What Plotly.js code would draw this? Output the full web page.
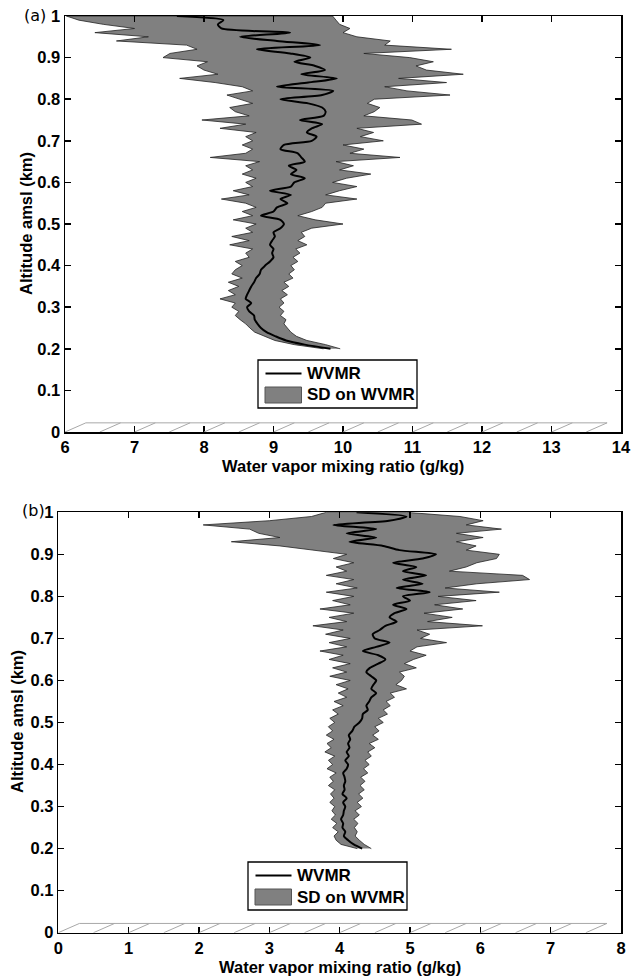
<!DOCTYPE html>
<html><head><meta charset="utf-8">
<script src="https://cdn.plot.ly/plotly-3.0.1.min.js"></script>
<style>html,body{margin:0;padding:0;background:#fff}#chart{width:641px;height:976px}</style>
</head><body><div id="chart"></div>
<script>
// Altitude levels (km amsl)
const altitudeKm = [
0.20,0.21,0.22,0.23,0.24,0.25,0.26,0.27,0.28,0.29,
0.30,0.31,0.32,0.33,0.34,0.35,0.36,0.37,0.38,0.39,
0.40,0.41,0.42,0.43,0.44,0.45,0.46,0.47,0.48,0.49,
0.50,0.51,0.52,0.53,0.54,0.55,0.56,0.57,0.58,0.59,
0.60,0.61,0.62,0.63,0.64,0.65,0.66,0.67,0.68,0.69,
0.70,0.71,0.72,0.73,0.74,0.75,0.76,0.77,0.78,0.79,
0.80,0.81,0.82,0.83,0.84,0.85,0.86,0.87,0.88,0.89,
0.90,0.91,0.92,0.93,0.94,0.95,0.96,0.97,0.98,0.99,
1.00];

// Panel (a): WVMR mean and SD envelope (g/kg)
const wvmrA = [
9.82,9.45,9.18,9.03,8.90,8.82,8.77,8.73,8.72,8.65,
8.62,8.68,8.60,8.62,8.65,8.68,8.72,8.75,8.80,8.82,
8.88,8.95,9.00,8.98,9.00,8.95,8.98,9.02,9.00,9.10,
9.15,9.10,8.82,9.00,9.05,9.20,9.10,9.25,8.95,9.25,
9.30,9.45,9.25,9.33,9.22,9.45,9.40,9.35,9.10,9.15,
9.55,9.62,9.48,9.55,9.70,9.38,9.72,9.75,9.70,9.50,
9.10,9.70,9.86,9.05,9.50,9.91,9.40,9.74,9.60,9.30,
9.53,9.24,8.76,9.67,9.05,8.52,9.24,8.25,8.20,8.28,
7.61];
const sdLowA = [
9.72,9.30,9.02,8.88,8.73,8.66,8.60,8.52,8.45,8.50,
8.40,8.45,8.23,8.45,8.35,8.50,8.35,8.55,8.40,8.45,
8.55,8.45,8.65,8.60,8.70,8.37,8.65,8.40,8.70,8.60,
8.75,8.42,8.70,8.55,8.75,8.60,8.25,8.65,8.42,8.70,
8.60,8.75,8.55,8.70,8.60,8.80,8.09,8.60,8.70,8.55,
8.70,8.60,8.75,8.23,8.60,7.97,8.65,8.45,8.37,8.70,
8.52,8.33,8.70,8.55,8.16,7.65,8.20,8.00,7.90,8.05,
7.41,7.51,7.90,7.75,6.74,7.20,6.43,7.00,6.55,6.20,
6.02];
const sdHighA = [
9.96,9.75,9.48,9.33,9.25,9.20,9.15,9.18,9.10,9.15,
9.08,9.15,9.10,9.20,9.12,9.22,9.15,9.28,9.22,9.30,
9.25,9.35,9.28,9.38,9.32,9.48,9.35,9.45,9.40,9.55,
10.00,9.60,9.35,9.55,9.70,9.75,10.20,9.75,9.95,10.20,
9.85,10.05,10.40,9.95,10.15,9.90,10.82,10.10,10.30,10.00,
10.58,10.25,10.44,10.20,11.13,10.99,10.30,10.45,10.53,10.35,
10.45,11.54,10.92,10.60,11.49,10.80,11.73,11.20,11.05,11.30,
10.96,10.30,11.56,10.60,10.68,10.20,10.00,10.10,9.95,9.90,
9.85];

// Panel (b)
const wvmrB = [
4.32,4.20,4.12,4.06,4.08,4.04,4.05,4.02,4.05,4.06,
4.08,4.05,4.10,4.04,4.07,4.06,4.08,4.07,4.05,4.10,
4.12,4.08,4.13,4.10,4.14,4.12,4.15,4.13,4.18,4.21,
4.28,4.32,4.33,4.40,4.38,4.42,4.45,4.52,4.45,4.48,
4.52,4.45,4.38,4.43,4.55,4.65,4.55,4.33,4.52,4.71,
4.50,4.47,4.57,4.65,4.81,4.71,4.78,4.95,4.76,5.00,
4.90,5.28,4.81,5.18,4.90,5.23,4.90,5.09,4.76,5.18,
5.37,4.85,4.62,4.14,4.52,4.10,4.52,3.91,4.70,4.95,
4.24];
const sdLowB = [
4.25,4.02,3.95,3.92,3.98,3.90,3.96,3.88,3.94,3.89,
3.93,3.86,3.92,3.87,3.93,3.84,3.91,3.86,3.95,3.82,
3.90,3.84,3.93,3.79,3.88,3.82,3.92,3.81,3.90,3.84,
3.93,3.86,3.98,3.90,4.05,3.92,4.10,3.98,4.12,3.95,
4.15,3.86,4.10,3.90,4.15,3.85,4.05,3.72,4.10,3.85,
4.15,3.80,4.05,3.62,4.10,3.85,4.20,3.72,4.15,3.90,
4.20,3.81,4.25,3.95,4.20,3.81,4.10,3.95,4.20,3.91,
4.10,3.60,3.15,2.46,3.15,2.85,2.72,2.06,3.00,3.60,
3.81];
const sdHighB = [
4.45,4.35,4.28,4.22,4.25,4.21,4.26,4.20,4.28,4.22,
4.31,4.25,4.33,4.27,4.35,4.29,4.36,4.30,4.40,4.34,
4.42,4.36,4.45,4.40,4.50,4.42,4.55,4.47,4.56,4.50,
4.62,4.55,4.68,4.62,4.72,4.66,4.78,4.72,4.95,4.80,
4.88,4.92,4.85,5.09,4.92,5.05,5.23,5.00,5.10,5.52,
5.15,5.28,5.10,6.03,5.25,5.60,5.20,5.75,5.35,5.94,
5.40,6.27,5.50,5.95,6.70,6.60,5.56,5.80,5.95,6.23,
6.27,5.80,5.94,5.66,6.04,5.66,6.30,5.80,6.04,5.71,
4.95];

const seriesNames = ['WVMR', 'SD on WVMR'];
const xRangeA = [6, 14];
const xRangeB = [0, 8];

const FONT = 'Arial, "Liberation Sans", sans-serif';
const W = 641, H = 976;
const BAND_FILL = '#808080';

function bandTrace(lo, hi, xa, ya) {
  const xs = lo.concat(hi.slice().reverse());
  const ys = altitudeKm.concat(altitudeKm.slice().reverse());
  return {x: xs, y: ys, xaxis: xa, yaxis: ya, type: 'scatter', mode: 'lines',
    fill: 'toself', fillcolor: BAND_FILL, line: {color: '#222', width: 0.8},
    name: seriesNames[1], showlegend: false, hoverinfo: 'skip'};
}
function meanTrace(m, xa, ya) {
  return {x: m, y: altitudeKm, xaxis: xa, yaxis: ya, type: 'scatter', mode: 'lines',
    line: {color: '#000', width: 2, shape: 'spline', smoothing: 0.7},
    name: seriesNames[0], showlegend: false};
}

const data = [
  bandTrace(sdLowA, sdHighA, 'x', 'y'),
  meanTrace(wvmrA, 'x', 'y'),
  bandTrace(sdLowB, sdHighB, 'x2', 'y2'),
  meanTrace(wvmrB, 'x2', 'y2')
];

// ground hatch strip (decoration)
const groundH = 0.022, hatchStep = 0.5, hatchSlant = 0.3;
const shapes = [];
[[xRangeA, 'x', 'y'], [xRangeB, 'x2', 'y2']].forEach(([r, xr, yr]) => {
  const hatchColor = '#a8a8a8';
  shapes.push({type: 'line', xref: xr, yref: yr, x0: r[0] + hatchSlant, x1: r[1] - 0.2,
    y0: groundH, y1: groundH, line: {color: hatchColor, width: 1}});
  for (let s = r[0]; s < r[1] - 0.2; s += hatchStep) {
    shapes.push({type: 'line', xref: xr, yref: yr, x0: s, x1: s + hatchSlant,
      y0: 0, y1: groundH, line: {color: hatchColor, width: 1}});
  }
});

// legend boxes (drawn in page pixels -> paper coords)
const px = v => v / W, py = v => 1 - v / H;
const legendFont = {family: FONT, size: 17, weight: 'bold', color: '#000'};
const annotations = [];
function addLegend(left, top) {
  shapes.push({type: 'rect', xref: 'paper', yref: 'paper', x0: px(left), x1: px(left + 159),
    y0: py(top), y1: py(top + 48), fillcolor: '#fff', line: {color: '#000', width: 1.3}});
  shapes.push({type: 'line', xref: 'paper', yref: 'paper', x0: px(left + 7.5), x1: px(left + 43.5),
    y0: py(top + 13.5), y1: py(top + 13.5), line: {color: '#000', width: 2}});
  shapes.push({type: 'rect', xref: 'paper', yref: 'paper', x0: px(left + 7), x1: px(left + 43.5),
    y0: py(top + 27), y1: py(top + 43), fillcolor: BAND_FILL, line: {color: '#555', width: 1}});
  annotations.push({text: seriesNames[0], xref: 'paper', yref: 'paper', x: px(left + 47), y: py(top + 13.5),
    xanchor: 'left', yanchor: 'middle', showarrow: false, font: legendFont});
  annotations.push({text: seriesNames[1], xref: 'paper', yref: 'paper', x: px(left + 47), y: py(top + 35),
    xanchor: 'left', yanchor: 'middle', showarrow: false, font: legendFont});
}
addLegend(258, 360);
addLegend(248, 862);

function xAxis(range, domain, anchor) {
  return {range: range, domain: domain, anchor: anchor, dtick: 1, tick0: 0,
    showgrid: false, zeroline: false, showline: true, linecolor: '#000', linewidth: 1.5,
    mirror: 'ticks', ticks: 'inside', ticklen: 6, tickwidth: 1.5, tickcolor: '#000',
    tickfont: {family: FONT, size: 16.5, weight: 'bold', color: '#000'}, fixedrange: true};
}
function yAxis(domain, anchor) {
  return {range: [0, 1], domain: domain, anchor: anchor, dtick: 0.1, tick0: 0,
    showgrid: false, zeroline: false, showline: true, linecolor: '#000', linewidth: 1.5,
    mirror: 'ticks', ticks: 'inside', ticklen: 6, tickwidth: 1.5, tickcolor: '#000',
    ticklabelstandoff: 0,
    tickfont: {family: FONT, size: 16.5, weight: 'bold', color: '#000'}, fixedrange: true};
}

const titleFont = {family: FONT, size: 16.5, weight: 'bold', color: '#000'};
annotations.push(
  {text: 'Water vapor mixing ratio (g/kg)', xref: 'paper', yref: 'paper', x: px(343), y: py(455),
    xanchor: 'center', yanchor: 'top', showarrow: false, font: titleFont},
  {text: 'Water vapor mixing ratio (g/kg)', xref: 'paper', yref: 'paper', x: px(340), y: py(956),
    xanchor: 'center', yanchor: 'top', showarrow: false, font: titleFont},
  {text: 'Altitude amsl (km)', xref: 'paper', yref: 'paper', x: px(26), y: py(224),
    xanchor: 'center', yanchor: 'middle', textangle: -90, showarrow: false, font: titleFont},
  {text: 'Altitude amsl (km)', xref: 'paper', yref: 'paper', x: px(17), y: py(722),
    xanchor: 'center', yanchor: 'middle', textangle: -90, showarrow: false, font: titleFont},
  {text: '(a)', xref: 'paper', yref: 'paper', x: px(22), y: py(15), xanchor: 'left', yanchor: 'middle',
    showarrow: false, font: {family: '"DejaVu Sans", sans-serif', size: 16, color: '#000'}},
  {text: '(b)', xref: 'paper', yref: 'paper', x: px(20), y: py(510), xanchor: 'left', yanchor: 'middle',
    showarrow: false, font: {family: '"DejaVu Sans", sans-serif', size: 16, color: '#000'}}
);

const layout = {
  width: W, height: H, margin: {l: 0, r: 0, t: 0, b: 0},
  paper_bgcolor: '#fff', plot_bgcolor: '#fff', showlegend: false,
  xaxis: xAxis(xRangeA, [px(65), px(621)], 'y'),
  yaxis: yAxis([py(432), py(16)], 'x'),
  xaxis2: xAxis(xRangeB, [px(58.3), px(621)], 'y2'),
  yaxis2: yAxis([py(932.7), py(512.3)], 'x2'),
  shapes: shapes,
  annotations: annotations
};

Plotly.newPlot('chart', data, layout, {staticPlot: true, displayModeBar: false});
</script>
</body></html>
